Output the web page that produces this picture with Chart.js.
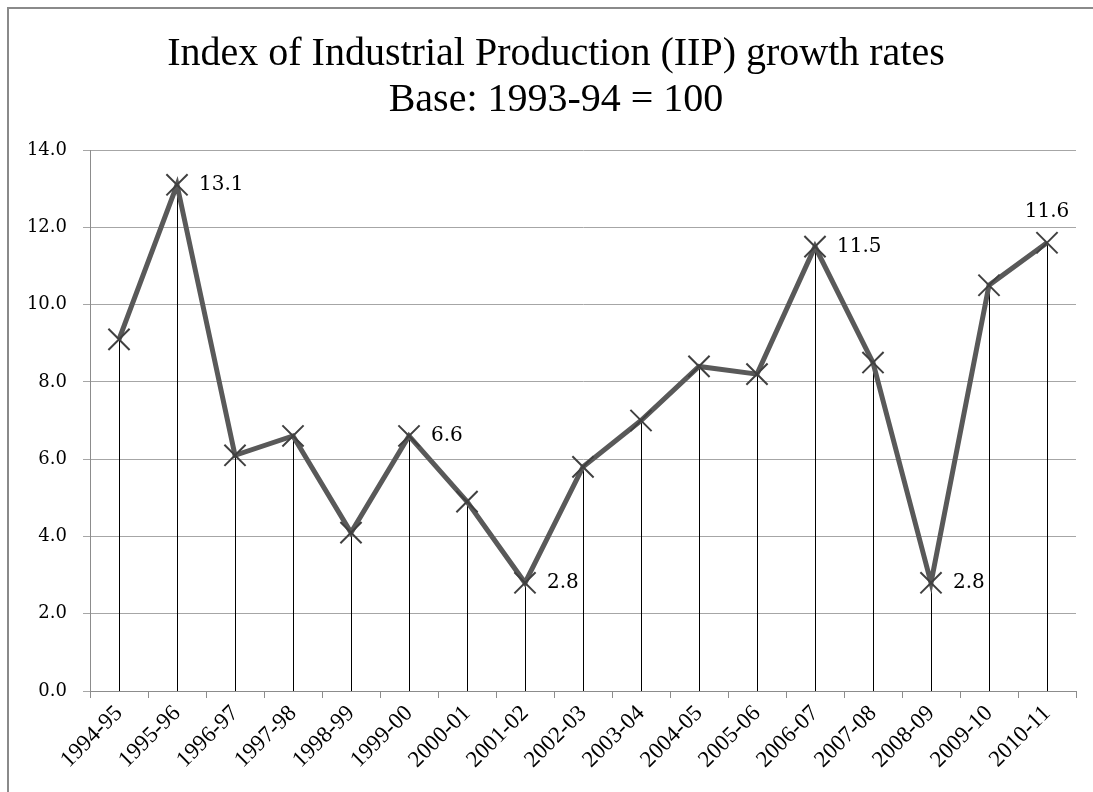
<!DOCTYPE html>
<html>
<head>
<meta charset="utf-8">
<title>IIP growth rates</title>
<script src="https://cdn.jsdelivr.net/npm/chart.js@4.4.1/dist/chart.umd.min.js"></script>
<style>
  html, body { margin: 0; padding: 0; background: #ffffff; overflow: hidden; }
  #frame {
    position: absolute; left: 7px; top: 7px; width: 1200px; height: 900px;
    border-left: 2px solid #8a8a8a; border-top: 2px solid #8a8a8a;
    pointer-events: none; z-index: 2;
  }
  #chart { position: absolute; left: 0; top: 0; }
</style>
</head>
<body>
<div id="frame"></div>
<canvas id="chart" width="1093" height="792"></canvas>
<script>
// Fiscal years and annual IIP growth (%)
const years = ['1994-95', '1995-96', '1996-97', '1997-98', '1998-99', '1999-00', '2000-01',
  '2001-02', '2002-03', '2003-04', '2004-05', '2005-06', '2006-07', '2007-08', '2008-09',
  '2009-10', '2010-11'];
const growth = [9.1, 13.1, 6.1, 6.6, 4.1, 6.6, 4.9, 2.8, 5.8, 7.0, 8.4, 8.2, 11.5, 8.5, 2.8, 10.5, 11.6];
const yTicks = [0, 2, 4, 6, 8, 10, 12, 14];
const titleLines = ['Index of Industrial Production (IIP) growth rates', 'Base: 1993-94 = 100'];

// Which points get a value callout, and on which side of the marker
const callouts = [
  { index: 1, side: 'right' },
  { index: 5, side: 'right' },
  { index: 7, side: 'right' },
  { index: 12, side: 'right' },
  { index: 14, side: 'right' },
  { index: 16, side: 'above' }
];

// Two-line heading centred over the whole chart frame
const heading = {
  id: 'heading',
  afterDraw(chart) {
    const ctx = chart.ctx;
    ctx.save();
    ctx.fillStyle = '#000000';
    ctx.font = '40px "Liberation Serif"';
    ctx.textAlign = 'center';
    ctx.textBaseline = 'middle';
    titleLines.forEach((line, i) => ctx.fillText(line, 556, 54 + i * 46));
    ctx.restore();
  }
};

// Thin vertical drop lines from every marker down to the category axis
const dropLines = {
  id: 'dropLines',
  beforeDatasetsDraw(chart) {
    const ctx = chart.ctx;
    const meta = chart.getDatasetMeta(0);
    const bottom = chart.scales.y.getPixelForValue(0);
    ctx.save();
    ctx.strokeStyle = '#000000';
    ctx.lineWidth = 1;
    meta.data.forEach(pt => {
      const x = Math.round(pt.x) + 0.5;
      ctx.beginPath();
      ctx.moveTo(x, pt.y);
      ctx.lineTo(x, bottom);
      ctx.stroke();
    });
    ctx.restore();
  }
};

// Value callouts next to selected markers
const valueLabels = {
  id: 'valueLabels',
  afterDatasetsDraw(chart) {
    const ctx = chart.ctx;
    const meta = chart.getDatasetMeta(0);
    ctx.save();
    ctx.fillStyle = '#000000';
    ctx.font = '20px "DejaVu Serif"';
    callouts.forEach(c => {
      const pt = meta.data[c.index];
      const text = growth[c.index].toFixed(1);
      ctx.textBaseline = 'middle';
      if (c.side === 'right') {
        ctx.textAlign = 'left';
        ctx.fillText(text, pt.x + 22, pt.y);
      } else {
        ctx.textAlign = 'center';
        ctx.fillText(text, pt.x, pt.y - 31);
      }
    });
    ctx.restore();
  }
};

new Chart(document.getElementById('chart'), {
  type: 'line',
  data: {
    labels: years,
    datasets: [{
      data: growth,
      borderColor: '#595959',
      borderWidth: 5,
      tension: 0,
      pointStyle: 'crossRot',
      pointRadius: 15,
      pointHoverRadius: 15,
      pointBorderWidth: 2,
      pointBorderColor: '#404040',
      pointBackgroundColor: '#404040'
    }]
  },
  options: {
    responsive: false,
    animation: false,
    devicePixelRatio: 1,
    layout: { padding: { left: 0, right: 17, top: 150, bottom: 0 } },
    plugins: {
      legend: { display: false },
      tooltip: { enabled: false },
      title: { display: false }
    },
    scales: {
      x: {
        offset: true,
        grid: {
          offset: true,
          drawOnChartArea: false,
          drawTicks: true,
          tickLength: 7,
          color: '#8c8c8c'
        },
        border: { display: true, color: '#8c8c8c', width: 1 },
        ticks: {
          autoSkip: false,
          minRotation: 45,
          maxRotation: 45,
          padding: 2,
          color: '#000000',
          font: { family: '"Liberation Serif"', size: 23 }
        },
        afterFit(scale) { scale.height = 101; }
      },
      y: {
        min: 0,
        max: 14,
        afterBuildTicks(scale) { scale.ticks = yTicks.map(v => ({ value: v })); },
        grid: {
          color: '#a6a6a6',
          lineWidth: 1,
          drawTicks: true,
          tickLength: 7
        },
        border: { display: true, color: '#8c8c8c', width: 1 },
        ticks: {
          padding: 16,
          color: '#000000',
          font: { family: '"DejaVu Serif"', size: 18 },
          callback: v => Number(v).toFixed(1)
        },
        afterFit(scale) { scale.width = 90; }
      }
    }
  },
  plugins: [heading, dropLines, valueLabels]
});
</script>
</body>
</html>
